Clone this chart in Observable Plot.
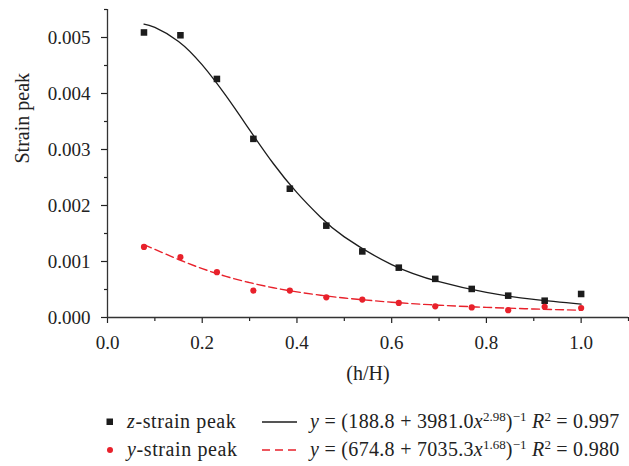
<!DOCTYPE html>
<html>
<head>
<meta charset="utf-8">
<script src="https://cdn.jsdelivr.net/npm/d3@7"></script>
<script src="https://cdn.jsdelivr.net/npm/@observablehq/plot@0.6"></script>
<style>
  html, body { margin: 0; padding: 0; background: #fff; }
  #wrap { position: relative; width: 629px; height: 466px; font-family: "Liberation Serif", "DejaVu Serif", serif; color: #222; }
  .row { position: absolute; left: 0; height: 20px; line-height: 20px; font-size: 20px; white-space: nowrap; }
  .row span.t { position: absolute; letter-spacing: 0.3px; }
  .row span.n { letter-spacing: 0.6px; }
  sup { font-size: 13px; line-height: 0; position: relative; vertical-align: baseline; top: -7px; letter-spacing: 0; }
</style>
</head>
<body>
<div id="wrap"></div>
<script>
// Data
const hH = [0.077, 0.154, 0.231, 0.308, 0.385, 0.462, 0.538, 0.615, 0.692, 0.769, 0.846, 0.923, 1.000];
const zPeak = [0.00509, 0.00504, 0.00426, 0.00319, 0.00230, 0.00164, 0.00118, 0.00089, 0.00069, 0.00051, 0.00039, 0.00030, 0.00042];
const yPeak = [0.00126, 0.00108, 0.00081, 0.00048, 0.00048, 0.00036, 0.00032, 0.00026, 0.00020, 0.00018, 0.00013, 0.00019, 0.00017];

const fitX = [0.077, 0.10, 0.15, 0.20, 0.25, 0.30, 0.35, 0.40, 0.45, 0.50, 0.60, 0.70, 0.80, 0.90, 1.00];
const zFit = [0.00524, 0.00518, 0.00493, 0.00451, 0.00396, 0.00335, 0.00275, 0.00223, 0.00179, 0.00144, 0.000945, 0.000639, 0.000447, 0.000323, 0.000240];
const yFit = [0.00130, 0.001217, 0.001036, 0.000873, 0.000735, 0.000623, 0.000532, 0.000458, 0.000398, 0.000348, 0.000273, 0.000220, 0.000181, 0.000152, 0.000130];

// Ticks
const xMajor = [0, 0.2, 0.4, 0.6, 0.8, 1.0];
const xMinor = [0.1, 0.3, 0.5, 0.7, 0.9, 1.1];
const yMajor = [0, 0.001, 0.002, 0.003, 0.004, 0.005];
const yMinor = [0.0005, 0.0015, 0.0025, 0.0035, 0.0045, 0.0055];

// Labels
const xTitle = "(h/H)";
const yTitle = "Strain peak";
const legendNames = ["z", "y"];
const legendEq = [
  {a: "188.8", b: "3981.0", p: "2.98", r2: "0.997"},
  {a: "674.8", b: "7035.3", p: "1.68", r2: "0.980"}
];

const BLACK = "#1c1c1c", RED = "#e8212b";

const zPts = hH.map((x, i) => ({x, y: zPeak[i]}));
const yPts = hH.map((x, i) => ({x, y: yPeak[i]}));
const zLine = fitX.map((x, i) => ({x, y: zFit[i]}));
const yLine = fitX.map((x, i) => ({x, y: yFit[i]}));

const chart = Plot.plot({
  width: 629, height: 395,
  marginLeft: 107, marginRight: 1, marginTop: 9, marginBottom: 78,
  x: {domain: [0, 1.1]},
  y: {domain: [0, 0.0055]},
  style: {fontFamily: '"Liberation Serif", "DejaVu Serif", serif', fontSize: "19px", color: "#222", background: "#fff", overflow: "visible"},
  marks: [
    Plot.axisX(xMajor, {tickSize: 6, tickPadding: 12, tickFormat: d3.format(".1f"), label: null, fontSize: 19, strokeWidth: 1.2}),
    Plot.axisX(xMinor, {tickSize: 4, tickFormat: () => "", label: null, strokeWidth: 1.2}),
    Plot.axisY(yMajor, {tickSize: 6, tickPadding: 11, tickFormat: d3.format(".3f"), label: null, fontSize: 19, strokeWidth: 1.2}),
    Plot.axisY(yMinor, {tickSize: 3, tickFormat: () => "", label: null, strokeWidth: 1.2}),
    Plot.ruleY([0], {stroke: "#333", strokeWidth: 1.3}),
    Plot.ruleX([0], {stroke: "#333", strokeWidth: 1.3}),
    Plot.line(zLine, {x: "x", y: "y", curve: "natural", stroke: BLACK, strokeWidth: 1.3}),
    Plot.line(yLine, {x: "x", y: "y", curve: "natural", stroke: RED, strokeWidth: 1.4, strokeDasharray: "8,4"}),
    Plot.dot(zPts, {x: "x", y: "y", symbol: "square", r: 3.7, fill: BLACK, stroke: "none"}),
    Plot.dot(yPts, {x: "x", y: "y", r: 3.1, fill: RED, stroke: "none"}),
    Plot.text([xTitle], {frameAnchor: "bottom", dy: 62, text: d => d, fontSize: 20, fill: "#222"}),
    Plot.text([yTitle], {frameAnchor: "left", dx: -85, rotate: -90, text: d => d, fontSize: 20, fill: "#222"})
  ]
});

const wrap = document.getElementById("wrap");
wrap.appendChild(chart);

// Legend (HTML below the SVG)
const rowTops = [410.5, 439];
legendNames.forEach((n, i) => {
  const row = document.createElement("div");
  row.className = "row";
  row.style.top = rowTops[i] + "px";
  row.style.width = "629px";
  const sym = i === 0
    ? `<svg style="position:absolute;left:106px;top:7px" width="8" height="8"><rect x="0.5" y="0.5" width="6.5" height="6.5" fill="${BLACK}"/></svg>`
    : `<svg style="position:absolute;left:106px;top:7px" width="8" height="8"><circle cx="4" cy="4" r="3" fill="${RED}"/></svg>`;
  const ln = i === 0
    ? `<svg style="position:absolute;left:262px;top:9px" width="36" height="4"><line x1="0" x2="35" y1="2" y2="2" stroke="${BLACK}" stroke-width="1.3"/></svg>`
    : `<svg style="position:absolute;left:262px;top:9px" width="36" height="4"><line x1="0" x2="35" y1="2" y2="2" stroke="${RED}" stroke-width="1.4" stroke-dasharray="8,5"/></svg>`;
  const e = legendEq[i];
  row.innerHTML = sym +
    `<span class="t n" style="left:127px"><i>${n}</i>-strain peak</span>` + ln +
    `<span class="t" style="left:310px"><i>y</i> = (${e.a} + ${e.b}<i>x</i><sup>${e.p}</sup>)<sup>\u22121</sup> <i>R</i><sup>2</sup> = ${e.r2}</span>`;
  wrap.appendChild(row);
});
</script>
</body>
</html>
